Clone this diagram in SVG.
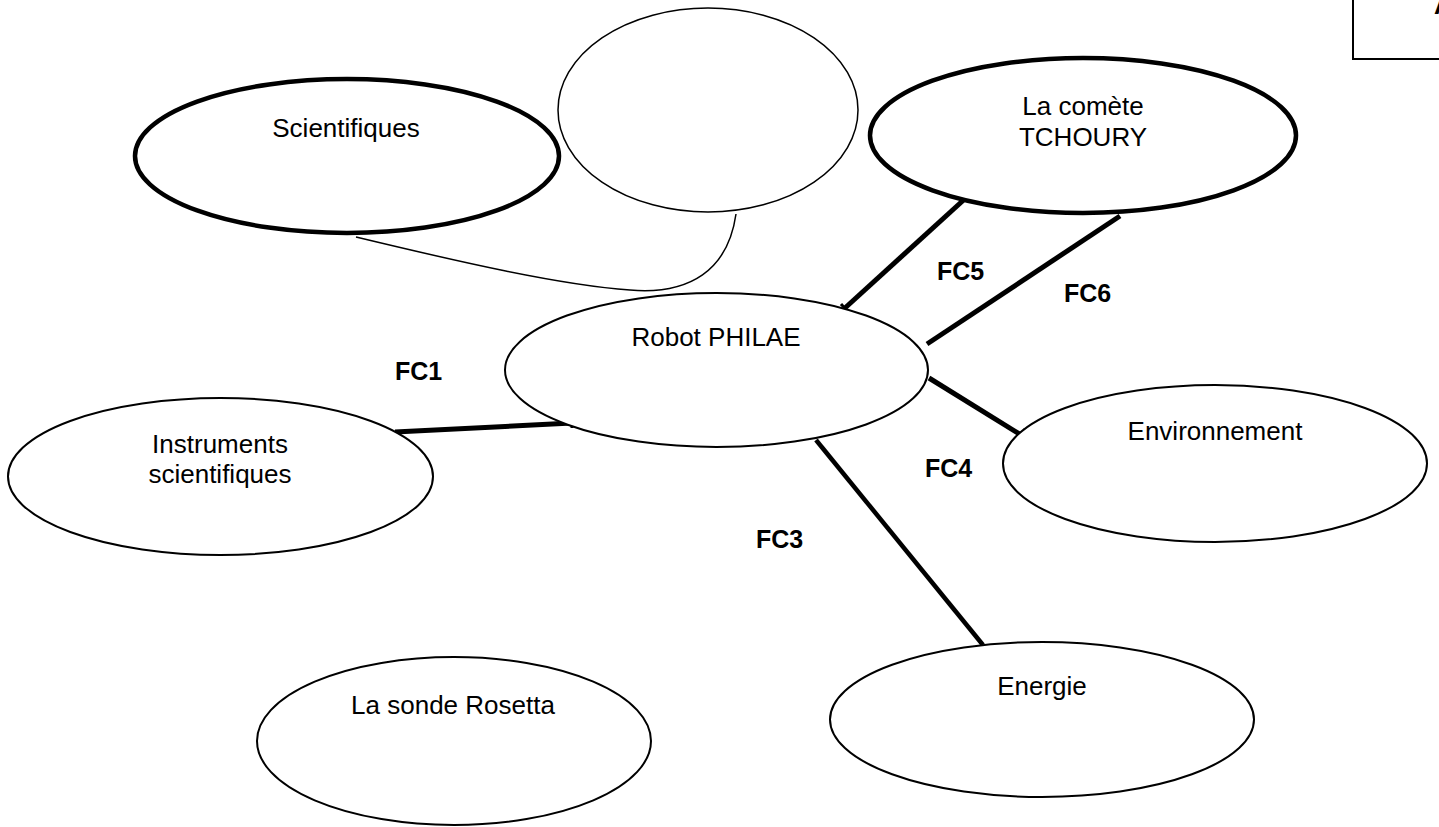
<svg xmlns="http://www.w3.org/2000/svg" width="1439" height="827" viewBox="0 0 1439 827">
<style>
.node{fill:#fff;stroke:#000;stroke-width:2}
.thick{stroke-width:4.5}
.thin{stroke-width:1.5}
.t{font-family:"Liberation Sans",Arial,sans-serif;font-size:26px;fill:#000;text-anchor:middle}
.lbl{font-family:"Liberation Sans",Arial,sans-serif;font-size:25px;font-weight:bold;fill:#000}
.c{stroke:#000;stroke-width:5;fill:none}
.tick{stroke:#000;stroke-width:3;fill:none}
</style>
<rect width="1439" height="827" fill="#fff"/>
<g id="corner-box">
<rect x="1353" y="-3" width="100" height="62" fill="none" stroke="#000" stroke-width="2"/>
<text x="1434" y="14" class="lbl" style="font-size:26px">A</text>
</g>
<g id="connectors">
<path d="M356,237 C460,262 560,285 630,290 C690,295 728,270 736,214" fill="none" stroke="#000" stroke-width="1.5"/>
<line class="c" x1="395" y1="432" x2="572" y2="423"/>
<line class="tick" x1="572" y1="418" x2="572" y2="428"/>
<line class="c" x1="816" y1="440" x2="983" y2="645" style="stroke-width:4.5"/>
<line class="c" x1="929" y1="378" x2="1021" y2="435"/>
<line class="tick" x1="1017" y1="441" x2="1025" y2="429"/>
<line class="c" x1="845" y1="308" x2="968" y2="196"/>
<line class="tick" x1="964" y1="192" x2="972" y2="201"/>
<line class="tick" x1="841" y1="304" x2="849" y2="313"/>
<line class="c" x1="927" y1="344" x2="1120" y2="216"/>
</g>
<g id="labels">
<text x="395" y="380" class="lbl">FC1</text>
<text x="756" y="548" class="lbl">FC3</text>
<text x="925" y="477" class="lbl">FC4</text>
<text x="937" y="280" class="lbl">FC5</text>
<text x="1064" y="302" class="lbl">FC6</text>
</g>
<g id="node-scientifiques">
<ellipse class="node thick" cx="347" cy="156" rx="212" ry="77"/>
<text class="t" x="346" y="137">Scientifiques</text>
</g>
<g id="node-empty">
<ellipse class="node thin" cx="708" cy="110" rx="150" ry="102"/>
</g>
<g id="node-comete">
<ellipse class="node thick" cx="1083" cy="135.5" rx="213" ry="77.5"/>
<text class="t" x="1083" y="115">La comète</text>
<text class="t" x="1083" y="146">TCHOURY</text>
</g>
<g id="node-robot">
<ellipse class="node" cx="716.5" cy="370" rx="211.5" ry="77"/>
<text class="t" x="716" y="346">Robot PHILAE</text>
</g>
<g id="node-instruments">
<ellipse class="node" cx="220.5" cy="476.5" rx="212.5" ry="78.5"/>
<text class="t" x="220" y="453">Instruments</text>
<text class="t" x="220" y="483">scientifiques</text>
</g>
<g id="node-environnement">
<ellipse class="node" cx="1215" cy="463.5" rx="212" ry="78.5"/>
<text class="t" x="1215" y="440">Environnement</text>
</g>
<g id="node-energie">
<ellipse class="node" cx="1042" cy="719.5" rx="212" ry="77.5"/>
<text class="t" x="1042" y="695">Energie</text>
</g>
<g id="node-rosetta">
<ellipse class="node" cx="454" cy="741" rx="197" ry="84"/>
<text class="t" x="453" y="714">La sonde Rosetta</text>
</g>
</svg>
